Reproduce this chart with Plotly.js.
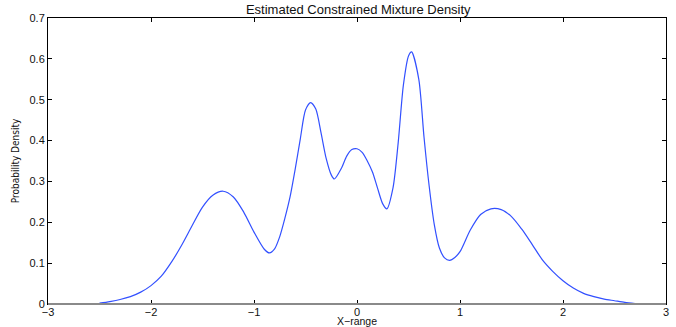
<!DOCTYPE html>
<html>
<head>
<meta charset="utf-8">
<script src="https://cdn.plot.ly/plotly-3.0.1.min.js"></script>
<style>
	html, body { margin: 0; padding: 0; background: #fff; }
	#graphic-density { width: 676px; height: 327px; }
</style>
</head>
<body>
<div id="graphic-density"></div>
<script>
// values
var xRange = [
	-2.5, -2.4, -2.3, -2.2, -2.1, -2.0, -1.9, -1.8, -1.7, -1.6,
	-1.5, -1.4, -1.3, -1.2, -1.1, -1.0, -0.9, -0.85, -0.8, -0.75,
	-0.7, -0.65, -0.6, -0.55, -0.5, -0.45, -0.4, -0.35, -0.3, -0.25,
	-0.22, -0.15, -0.1, -0.05, 0.0, 0.05, 0.1, 0.15, 0.2, 0.25,
	0.29, 0.35, 0.4, 0.45, 0.5, 0.53, 0.6, 0.65, 0.7, 0.75,
	0.8, 0.85, 0.9, 0.95, 1.0, 1.1, 1.2, 1.3, 1.4, 1.5,
	1.6, 1.7, 1.8, 1.9, 2.0, 2.1, 2.2, 2.3, 2.4, 2.5,
	2.6, 2.7,
];
var density = [
	0.002, 0.006, 0.011, 0.018, 0.029, 0.045, 0.068, 0.103, 0.145, 0.192,
	0.237, 0.266, 0.276, 0.262, 0.225, 0.176, 0.134, 0.125, 0.135, 0.165,
	0.21, 0.262, 0.33, 0.405, 0.475, 0.493, 0.477, 0.42, 0.357, 0.316,
	0.306, 0.333, 0.362, 0.378, 0.38, 0.371, 0.35, 0.323, 0.283, 0.245,
	0.233, 0.285, 0.395, 0.535, 0.607, 0.617, 0.55, 0.41, 0.29, 0.195,
	0.137, 0.113, 0.107, 0.114, 0.128, 0.181, 0.219, 0.233, 0.231, 0.214,
	0.183, 0.146, 0.108, 0.08, 0.057, 0.039, 0.026, 0.018, 0.012, 0.008,
	0.004, 0.001,
];

var trace1 = {
	x: xRange,
	y: density,
	mode: "lines",
	type: "scatter",
	line: {
		color: "rgb(50, 80, 255)",
		width: 1.2,
		shape: "spline",
		smoothing: 0.75,
	},
	hoverinfo: "x+y",
};

var axisFont = { family: "Liberation Sans, Arial, sans-serif", size: 11, color: "#111" };

var layout = {
	width: 676,
	height: 327,
	margin: { l: 48, r: 10, t: 18, b: 23 },
	paper_bgcolor: "#fff",
	plot_bgcolor: "#fff",
	showlegend: false,
	title: {
		text: "Estimated Constrained Mixture Density",
		font: { family: "Liberation Sans, Arial, sans-serif", size: 13, color: "#111" },
		x: 0.53,
		xanchor: "center",
		y: 0.97,
		yanchor: "middle",
	},
	xaxis: {
		range: [-3, 3],
		dtick: 1,
		showgrid: false,
		zeroline: false,
		showline: true,
		mirror: "ticks",
		linecolor: "#000",
		linewidth: 1,
		ticks: "inside",
		ticklen: 4,
		tickcolor: "#000",
		tickfont: axisFont,
		ticklabelstandoff: -2,
		title: {
			text: "X\u2212range",
			font: { family: "Liberation Sans, Arial, sans-serif", size: 10.5, color: "#111" },
			standoff: 2,
		},
	},
	yaxis: {
		range: [0, 0.7],
		dtick: 0.1,
		showgrid: false,
		zeroline: false,
		showline: true,
		mirror: "ticks",
		linecolor: "#000",
		linewidth: 1,
		ticks: "inside",
		ticklen: 4,
		tickcolor: "#000",
		tickfont: axisFont,
		title: {
			text: "Probability Density",
			font: { family: "Liberation Sans Narrow, Arial Narrow, DejaVu Sans Condensed, sans-serif", size: 10, color: "#111" },
			standoff: 8,
		},
	},
	shapes: [
		{
			type: "line",
			xref: "paper",
			yref: "paper",
			x0: 0,
			x1: 1,
			y0: 0,
			y1: 0,
			line: { color: "#8a8a8a", width: 2 },
		},
	],
};

var config = {
	responsive: false,
	displayModeBar: false,
	displaylogo: false,
	staticPlot: false,
};

Plotly.newPlot("graphic-density", [trace1], layout, config);
</script>
</body>
</html>
